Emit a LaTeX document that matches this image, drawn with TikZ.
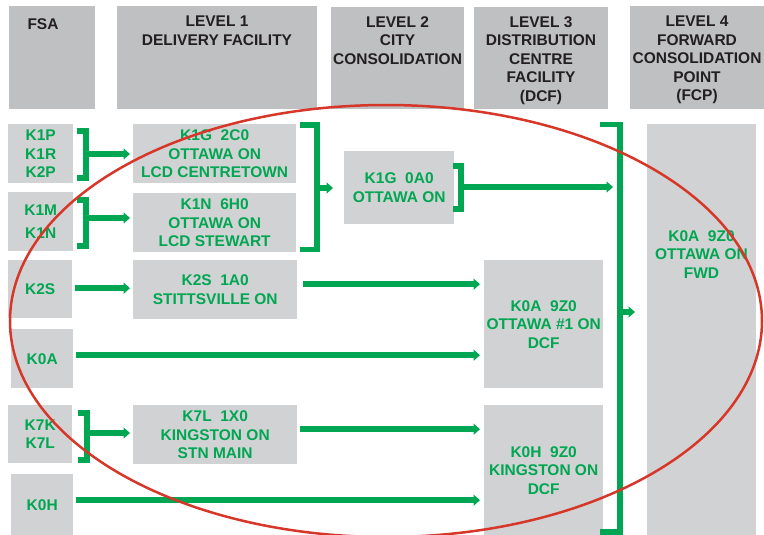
\documentclass[tikz,border=0pt]{standalone}
\usepackage{fontspec}
\setmainfont{Liberation Sans}
\usetikzlibrary{arrows.meta,calc}
\definecolor{pgreen}{RGB}{0,166,81}
\definecolor{hgray}{RGB}{191,192,194}
\definecolor{bgray}{RGB}{209,210,212}
\definecolor{htext}{RGB}{35,31,32}
\definecolor{ered}{RGB}{214,55,40}
\begin{document}
\begin{tikzpicture}[x=1pt,y=-1pt,
  every node/.style={font=\fontsize{15.5}{18.5}\selectfont\bfseries, inner sep=0pt, align=center},
  hbox/.style={fill=hgray, anchor=north west},
  bbox/.style={fill=bgray, anchor=north west, text=pgreen},
  htxt/.style={text=htext, anchor=north},
  gline/.style={draw=pgreen, line width=5.5pt, line join=miter},
  garrow/.style={gline, -{Triangle[length=6.5pt,width=11pt]}},
  oval/.style={draw=ered, line width=2.5pt}
]
\useasboundingbox (0,0) rectangle (764,535);

% header boxes
\node[hbox, minimum width=86pt, minimum height=103pt] (hfsa) at (9,6) {};
\node[hbox, minimum width=200pt, minimum height=103pt] (hl1) at (117,6) {};
\node[hbox, minimum width=133pt, minimum height=102pt] (hl2) at (331,7) {};
\node[hbox, minimum width=134pt, minimum height=102pt] (hl3) at (474,7) {};
\node[hbox, minimum width=134pt, minimum height=103pt] (hl4) at (630,6) {};

\node[htxt] (tfsa) at (43,18) {FSA};
\node[htxt] (tl1) at (217,16) {LEVEL 1\\DELIVERY FACILITY};
\node[htxt] (tl2) at (397.5,16) {LEVEL 2\\CITY\\CONSOLIDATION};
\node[htxt] (tl3) at (541,16) {LEVEL 3\\DISTRIBUTION\\CENTRE\\FACILITY\\(DCF)};
\node[htxt] (tl4) at (697,16) {LEVEL 4\\FORWARD\\CONSOLIDATION\\POINT\\(FCP)};

% FSA column
\node[bbox, minimum width=65pt, minimum height=59pt] (fsa1) at (8,124) {K1P\\K1R\\K2P};
\node[bbox, minimum width=65pt, minimum height=59pt] (fsa2) at (8,192) {K1M\\[4.5pt]K1N};
\node[bbox, minimum width=64pt, minimum height=58pt] (fsa3) at (8,260) {K2S};
\node[bbox, minimum width=62pt, minimum height=59pt] (fsa4) at (11,329) {K0A};
\node[bbox, minimum width=64pt, minimum height=58pt] (fsa5) at (8,405) {K7K\\K7L};
\node[bbox, minimum width=62pt, minimum height=61pt] (fsa6) at (11,474) {K0H};

% Level 1
\node[bbox, minimum width=163pt, minimum height=59pt] (l1a) at (133,124) {K1G\ \ 2C0\\OTTAWA ON\\LCD CENTRETOWN};
\node[bbox, minimum width=163pt, minimum height=59pt] (l1b) at (133,193) {K1N\ \ 6H0\\OTTAWA ON\\LCD STEWART};
\node[bbox, minimum width=164pt, minimum height=59pt] (l1c) at (133,260) {K2S\ \ 1A0\\STITTSVILLE ON};
\node[bbox, minimum width=164pt, minimum height=59pt] (l1d) at (133,405) {K7L\ \ 1X0\\KINGSTON ON\\STN MAIN};

% Level 2
\node[bbox, minimum width=110pt, minimum height=73pt] (l2a) at (344,151) {K1G\ \ 0A0\\OTTAWA ON};

% Level 3
\node[bbox, minimum width=119pt, minimum height=128pt] (dcf1) at (484,260) {K0A\ \ 9Z0\\OTTAWA \#1 ON\\DCF};
\node[bbox, minimum width=119pt, minimum height=130pt] (dcf2) at (484,405) {K0H\ \ 9Z0\\KINGSTON ON\\DCF};

% Level 4
\node[bbox, minimum width=109pt, minimum height=411pt] (fcp) at (647,124) {};
\node[text=pgreen, anchor=north] (tfcp) at (701.5,230) {K0A\ \ 9Z0\\OTTAWA ON\\FWD};

% brackets FSA -> Level 1
\coordinate (b1t) at (77,131); \coordinate (b1b) at (77,178); \coordinate (b1m) at (86,154);
\draw[gline] (b1t) -| (b1m) |- (b1b);
\draw[garrow, shorten >=3pt] (b1m) -- (b1m -| l1a.west);

\coordinate (b2t) at (77,200); \coordinate (b2b) at (77,246); \coordinate (b2m) at (86,218);
\draw[gline] (b2t) -| (b2m) |- (b2b);
\draw[garrow, shorten >=3pt] (b2m) -- (b2m -| l1b.west);

\coordinate (b3t) at (78,413); \coordinate (b3b) at (78,460); \coordinate (b3m) at (87,433);
\draw[gline] (b3t) -| (b3m) |- (b3b);
\draw[garrow, shorten >=3pt] (b3m) -- (b3m -| l1d.west);

% direct arrows
\coordinate (s3) at ($(fsa3.east)+(3,-1)$);
\draw[garrow, shorten >=3pt] (s3) -- (s3 -| l1c.west);
\coordinate (s4) at ($(fsa4.east)+(3,-3.5)$);
\draw[garrow, shorten >=4pt] (s4) -- (s4 -| dcf1.west);
\coordinate (s6) at ($(fsa6.east)+(3,-4.5)$);
\draw[garrow, shorten >=4pt] (s6) -- (s6 -| dcf2.west);
\coordinate (sc) at ($(l1c.east)+(6,-5.5)$);
\draw[garrow, shorten >=4pt] (sc) -- (sc -| dcf1.west);
\coordinate (sd) at ($(l1d.east)+(3,-5.5)$);
\draw[garrow, shorten >=4pt] (sd) -- (sd -| dcf2.west);

% Level 1 -> Level 2 bracket
\coordinate (bl1t) at (300,125); \coordinate (bl1b) at (300,249.5); \coordinate (bl1m) at (317,188);
\draw[gline] (bl1t) -| (bl1m) |- (bl1b);
\draw[garrow, shorten >=11pt] (bl1m) -- (bl1m -| l2a.west);

% Level 2 bracket
\coordinate (bl2t) at (453,166); \coordinate (bl2b) at (453,209); \coordinate (bl2m) at (461,187);
\draw[gline] (bl2t) -| (bl2m) |- (bl2b);

% Level 3 -> Level 4 bracket
\coordinate (bl3t) at (600,124.5); \coordinate (bl3b) at (600,532); \coordinate (bl3m) at (620,312);
\draw[gline] (bl3t) -| (bl3m) |- (bl3b);
\draw[garrow, shorten >=7pt] (bl2m) -- (bl2m -| bl3m);
\draw[garrow, shorten >=12pt] (bl3m) -- (bl3m -| fcp.west);

% red oval
\draw[oval] (386,321) ellipse [x radius=376pt, y radius=216pt];
\end{tikzpicture}
\end{document}
